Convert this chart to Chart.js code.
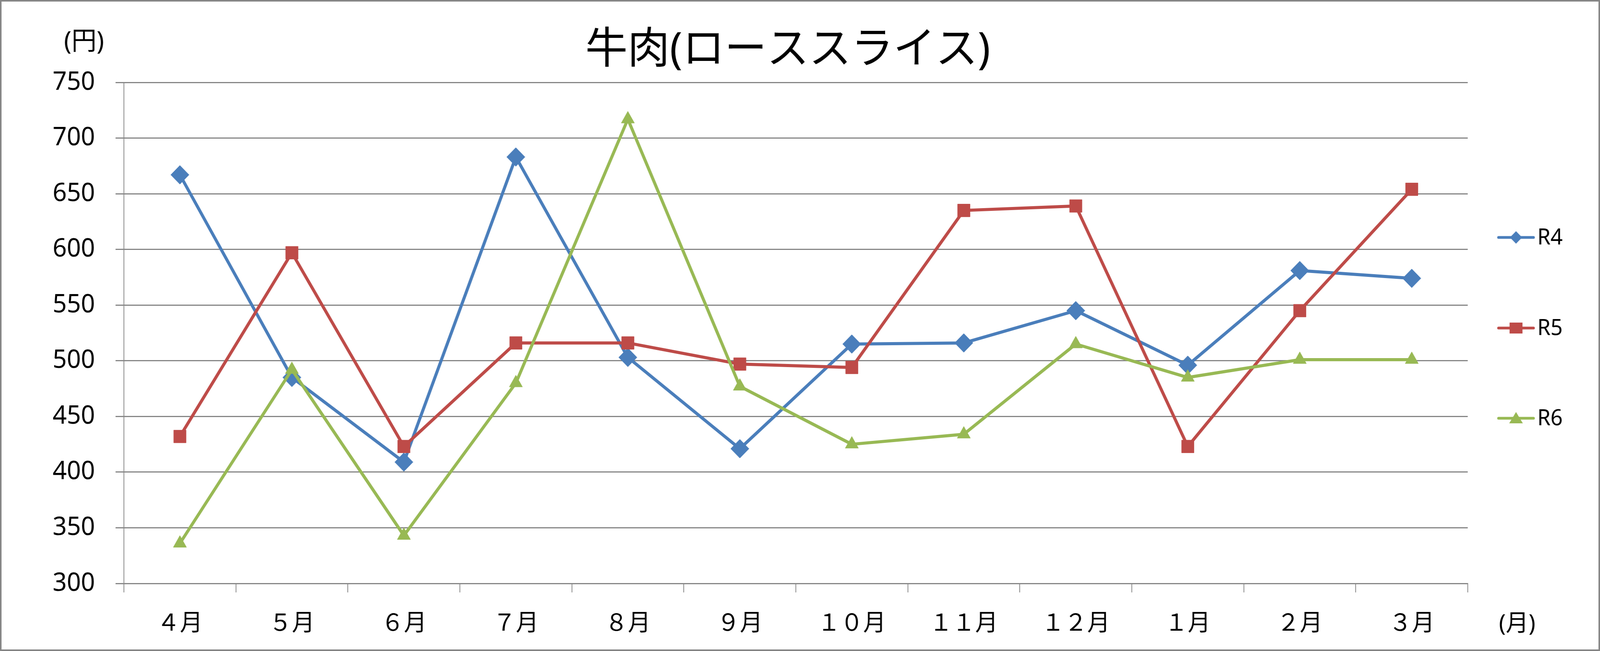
<!DOCTYPE html>
<html>
<head>
<meta charset="utf-8">
<script src="https://cdn.jsdelivr.net/npm/chart.js@4/dist/chart.umd.min.js"></script>
<style>
  html, body { margin: 0; padding: 0; background: #fff; overflow: hidden; }
  #wrap { width: 4210px; height: 1667px; transform-origin: 0 0; }
</style>
</head>
<body>
<div id="wrap"><canvas id="beefChart" width="4210" height="1667"></canvas></div>
<script>
// 月 (x軸)
const months = ['４月', '５月', '６月', '７月', '８月', '９月', '１０月', '１１月', '１２月', '１月', '２月', '３月'];
// 各年度の価格 (円)
const r4 = [667, 485, 409, 683, 503, 421, 515, 516, 545, 496, 581, 574];
const r5 = [432, 597, 423, 516, 516, 497, 494, 635, 639, 423, 545, 654];
const r6 = [336, 492, 343, 480, 717, 477, 425, 434, 515, 485, 501, 501];
const seriesNames = ['R4', 'R5', 'R6'];
const yTicks = [300, 350, 400, 450, 500, 550, 600, 650, 700, 750];

const FONT = "'Noto Sans', 'Noto Sans CJK JP', sans-serif";
const GRID = '#868686';

// fit the 4210x1667 drawing into whatever the viewport really is
const wrap = document.getElementById('wrap');
const sx = (window.innerWidth || 4210) / 4210;
const sy = (window.innerHeight || 1667) / 1667;
wrap.style.transform = 'scale(' + sx + ',' + sy + ')';

// 凡例・タイトル・単位ラベル
const extras = {
    id: 'extras',
    beforeDraw(chart) {
        const ctx = chart.ctx;
        ctx.save();
        ctx.fillStyle = '#fff';
        ctx.fillRect(0, 0, chart.width, chart.height);
        ctx.restore();
    },
    afterDraw(chart) {
        const ctx = chart.ctx;
        ctx.save();
        ctx.fillStyle = '#000';
        ctx.textBaseline = 'middle';
        ctx.textAlign = 'center';
        ctx.font = "111px 'Noto Sans', 'Noto Sans CJK JP', sans-serif";
        ctx.fillText('牛肉(ローススライス)', 2073, 130);
        ctx.font = "66px 'Noto Sans', 'Noto Sans CJK JP', sans-serif";
        ctx.fillText('(円)', 221, 108);
        ctx.font = "60px 'Noto Sans', 'Noto Sans CJK JP', sans-serif";
        ctx.fillText('(月)', 3992, 1599);

        // legend
        const legendY = [608, 840, 1071];
        chart.data.datasets.forEach((ds, i) => {
            const y = legendY[i];
            ctx.strokeStyle = ds.borderColor;
            ctx.lineWidth = 7;
            ctx.lineCap = 'round';
            ctx.beginPath();
            ctx.moveTo(3943, y);
            ctx.lineTo(4035, y);
            ctx.stroke();
            ctx.fillStyle = ds.borderColor;
            ctx.beginPath();
            const cx = 3989;
            if (ds.pointStyle === 'rectRot') {
                ctx.moveTo(cx, y - 16); ctx.lineTo(cx + 16, y); ctx.lineTo(cx, y + 16); ctx.lineTo(cx - 16, y);
            } else if (ds.pointStyle === 'rect') {
                ctx.rect(cx - 17, y - 14, 34, 28);
            } else {
                ctx.moveTo(cx, y - 16); ctx.lineTo(cx + 18, y + 13); ctx.lineTo(cx - 18, y + 13);
            }
            ctx.closePath();
            ctx.fill();
            ctx.fillStyle = '#000';
            ctx.textAlign = 'left';
            ctx.font = "56px 'Noto Sans', sans-serif";
            ctx.fillText(ds.label, 4045, y + 2);
        });

        // outer frame
        ctx.strokeStyle = GRID;
        ctx.lineWidth = 4;
        ctx.strokeRect(2, 2, chart.width - 4, chart.height - 4);
        ctx.restore();
    }
};

new Chart(document.getElementById('beefChart'), {
    type: 'line',
    data: {
        labels: months,
        datasets: [
            {
                label: seriesNames[0],
                data: r4,
                borderColor: '#4A7EBB',
                backgroundColor: '#4A7EBB',
                pointStyle: 'rectRot',
                pointRadius: 24,
                order: 2
            },
            {
                label: seriesNames[1],
                data: r5,
                borderColor: '#BE4B48',
                backgroundColor: '#BE4B48',
                pointStyle: 'rect',
                pointRadius: 23,
                order: 1
            },
            {
                label: seriesNames[2],
                data: r6,
                borderColor: '#98B954',
                backgroundColor: '#98B954',
                pointStyle: 'triangle',
                pointRadius: 20,
                order: 0
            }
        ]
    },
    options: {
        responsive: false,
        animation: false,
        devicePixelRatio: 1,
        layout: { autoPadding: false, padding: { top: 211, right: 348, bottom: 0, left: 0 } },
        elements: {
            line: { borderWidth: 8, tension: 0, borderCapStyle: 'round', borderJoinStyle: 'round' },
            point: { borderWidth: 1, hoverRadius: 24 }
        },
        datasets: { line: { clip: false } },
        scales: {
            x: {
                offset: true,
                grid: { offset: true, drawOnChartArea: false, drawTicks: true, tickLength: 23, color: GRID, lineWidth: 2 },
                border: { display: true, color: GRID, width: 3 },
                ticks: { font: { family: FONT, size: 60 }, color: '#000', padding: 45, maxRotation: 0, autoSkip: false },
                afterFit(scale) { scale.height = 173; }
            },
            y: {
                min: yTicks[0],
                max: yTicks[yTicks.length - 1],
                afterBuildTicks(scale) { scale.ticks = yTicks.map(v => ({ value: v })); },
                grid: { color: GRID, lineWidth: 3, drawTicks: true, tickLength: 22 },
                border: { display: true, color: GRID, width: 2 },
                ticks: { font: { family: FONT, size: 65 }, color: '#000', padding: 54 },
                afterFit(scale) { scale.width = 326; }
            }
        },
        plugins: {
            legend: { display: false },
            title: { display: false },
            tooltip: { enabled: false }
        }
    },
    plugins: [extras]
});
</script>
</body>
</html>
